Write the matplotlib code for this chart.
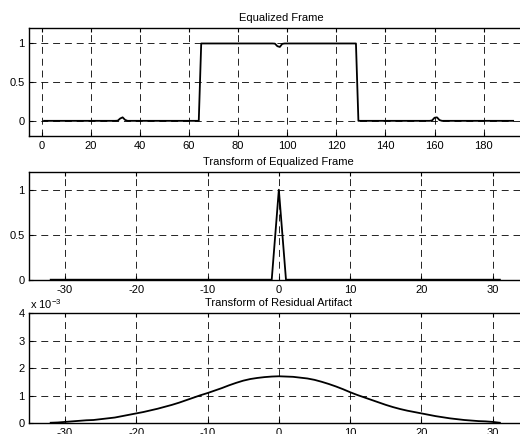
import matplotlib
matplotlib.use("Agg")
import matplotlib.pyplot as plt
from matplotlib.ticker import FuncFormatter
import numpy as np

plt.rcParams["font.family"] = ["Liberation Sans", "DejaVu Sans"]
plt.rcParams["mathtext.fontset"] = "custom"
plt.rcParams["mathtext.rm"] = "Liberation Sans"
plt.rcParams["lines.scale_dashes"] = False
plt.rcParams["axes.unicode_minus"] = False

# ── Data ──────────────────────────────────────────────────────────────────────
frame_samples = np.arange(1, 193)
guard_bump_1 = [0.002, 0.03, 0.045, 0.012, 0.0]      # samples 31..35
payload_dip = [0.998, 0.965, 0.955, 0.995]            # samples 95..98
guard_bump_2 = [0.005, 0.04, 0.045, 0.01]             # samples 159..162
frame_values = ([0.0] * 30 + guard_bump_1 + [0.0] * 29 + [1.0] * 30
                + payload_dip + [1.0] * 30 + [0.0] * 30 + guard_bump_2
                + [0.0] * 30)

freq_bins = np.arange(-32, 32)
frame_spectrum = [0.0] * 32 + [1.0] + [0.0] * 31

residual_spectrum_e3 = [
    0.02, 0.03, 0.05, 0.07, 0.09, 0.11, 0.12, 0.15,
    0.18, 0.21, 0.26, 0.31, 0.36, 0.41, 0.47, 0.53,
    0.60, 0.67, 0.75, 0.84, 0.93, 1.02, 1.10, 1.19,
    1.28, 1.38, 1.47, 1.55, 1.61, 1.65, 1.68, 1.70,
    1.71, 1.70, 1.69, 1.66, 1.63, 1.58, 1.51, 1.43,
    1.34, 1.24, 1.13, 1.03, 0.94, 0.85, 0.76, 0.67,
    0.59, 0.52, 0.46, 0.41, 0.36, 0.31, 0.26, 0.22,
    0.18, 0.15, 0.12, 0.10, 0.08, 0.07, 0.05, 0.02,
]
residual_spectrum = np.array(residual_spectrum_e3) * 1e-3

frame_xticks = [0, 20, 40, 60, 80, 100, 120, 140, 160, 180]
freq_xticks = [-30, -20, -10, 0, 10, 20, 30]

# ── Figure ────────────────────────────────────────────────────────────────────
fig = plt.figure(figsize=(5.2, 4.34), dpi=100)
fig.patch.set_facecolor("white")

W, H = 520.0, 434.0


def make_axes(left, top, right, bottom):
    return fig.add_axes([left / W, 1 - bottom / H, (right - left) / W,
                         (bottom - top) / H])


def style(ax, title):
    ax.set_title(title, fontsize=8, pad=5)
    ax.grid(True, color="black", linewidth=0.6, dashes=(5, 3.5))
    ax.set_axisbelow(False)
    ax.tick_params(direction="in", length=3, width=0.8, labelsize=8,
                   top=True, right=True, pad=3.5)
    for s in ax.spines.values():
        s.set_linewidth(1.0)


ax1 = make_axes(29.3, 28.0, 29.3 + 205 * 2.456, 136.3)
ax1.plot(frame_samples, frame_values, color="black", lw=1.3)
ax1.set_xlim(-5, 200)
ax1.set_ylim(-0.2, 1.2)
ax1.set_xticks(frame_xticks)
ax1.set_yticks([0, 0.5, 1])
ax1.set_yticklabels(["0", "0.5", "1"])
style(ax1, "Equalized Frame")

ax2 = make_axes(29.3, 171.7, 29.3 + 70 * 7.13, 279.7)
ax2.plot(freq_bins, frame_spectrum, color="black", lw=1.3)
ax2.set_xlim(-35, 35)
ax2.set_ylim(0, 1.2)
ax2.set_xticks(freq_xticks)
ax2.set_yticks([0, 0.5, 1])
ax2.set_yticklabels(["0", "0.5", "1"])
style(ax2, "Transform of Equalized Frame")

ax3 = make_axes(29.3, 313.3, 29.3 + 70 * 7.13, 423.3)
ax3.plot(freq_bins, residual_spectrum, color="black", lw=1.3)
ax3.set_xlim(-35, 35)
ax3.set_ylim(0, 4e-3)
ax3.set_xticks(freq_xticks)
ax3.set_yticks([0, 1e-3, 2e-3, 3e-3, 4e-3])
ax3.yaxis.set_major_formatter(FuncFormatter(lambda v, p: f"{v * 1e3:g}"))
style(ax3, "Transform of Residual Artifact")
fig.text(29.5 / W, 1 - 309 / H, r"x 10$^{\mathrm{-3}}$", fontsize=8,
         ha="left", va="baseline")

fig.savefig("out.png", dpi=100, facecolor="white")
